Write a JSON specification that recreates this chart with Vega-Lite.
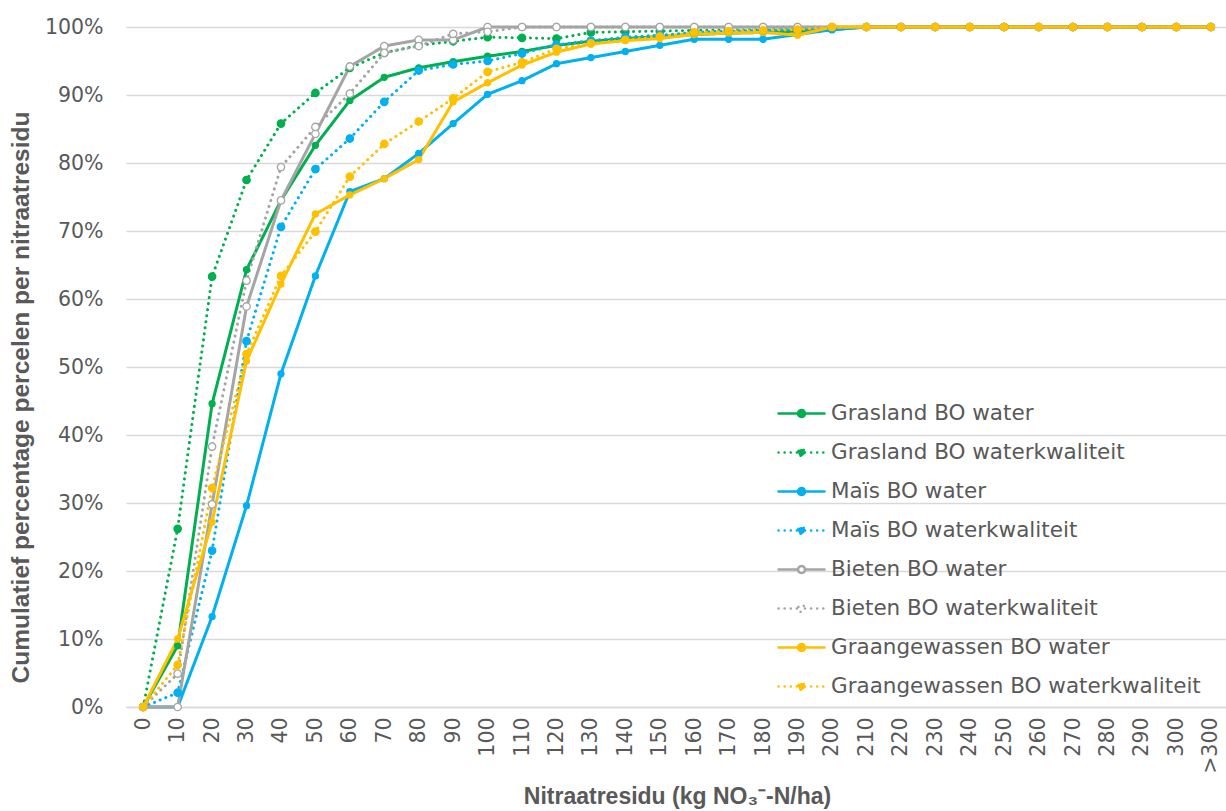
{
  "$schema": "https://vega.github.io/schema/vega-lite/v6.json",
  "width": 1102,
  "height": 680,
  "autosize": {"type": "none"},
  "padding": {"left": 126, "top": 27, "right": 0, "bottom": 104},
  "background": "white",
  "data": {
    "values": [
      {"x": "0", "Grasland BO water": 0, "Grasland BO waterkwaliteit": 0, "Maïs BO water": 0, "Maïs BO waterkwaliteit": 0, "Bieten BO water": 0, "Bieten BO waterkwaliteit": 0, "Graangewassen BO water": 0, "Graangewassen BO waterkwaliteit": 0},
      {"x": "10", "Grasland BO water": 9.0, "Grasland BO waterkwaliteit": 26.2, "Maïs BO water": 0, "Maïs BO waterkwaliteit": 2.1, "Bieten BO water": 0, "Bieten BO waterkwaliteit": 4.9, "Graangewassen BO water": 10.0, "Graangewassen BO waterkwaliteit": 6.2},
      {"x": "20", "Grasland BO water": 44.6, "Grasland BO waterkwaliteit": 63.3, "Maïs BO water": 13.3, "Maïs BO waterkwaliteit": 23.0, "Bieten BO water": 29.8, "Bieten BO waterkwaliteit": 38.3, "Graangewassen BO water": 27.2, "Graangewassen BO waterkwaliteit": 32.2},
      {"x": "30", "Grasland BO water": 64.3, "Grasland BO waterkwaliteit": 77.5, "Maïs BO water": 29.6, "Maïs BO waterkwaliteit": 53.8, "Bieten BO water": 58.9, "Bieten BO waterkwaliteit": 62.7, "Graangewassen BO water": 50.9, "Graangewassen BO waterkwaliteit": 51.9},
      {"x": "40", "Grasland BO water": 74.5, "Grasland BO waterkwaliteit": 85.8, "Maïs BO water": 49.0, "Maïs BO waterkwaliteit": 70.6, "Bieten BO water": 74.5, "Bieten BO waterkwaliteit": 79.4, "Graangewassen BO water": 62.2, "Graangewassen BO waterkwaliteit": 63.4},
      {"x": "50", "Grasland BO water": 82.6, "Grasland BO waterkwaliteit": 90.3, "Maïs BO water": 63.4, "Maïs BO waterkwaliteit": 79.1, "Bieten BO water": 84.3, "Bieten BO waterkwaliteit": 85.3, "Graangewassen BO water": 72.5, "Graangewassen BO waterkwaliteit": 69.9},
      {"x": "60", "Grasland BO water": 89.2, "Grasland BO waterkwaliteit": 94.0, "Maïs BO water": 75.8, "Maïs BO waterkwaliteit": 83.6, "Bieten BO water": 94.2, "Bieten BO waterkwaliteit": 90.2, "Graangewassen BO water": 75.3, "Graangewassen BO waterkwaliteit": 78.0},
      {"x": "70", "Grasland BO water": 92.6, "Grasland BO waterkwaliteit": 96.2, "Maïs BO water": 77.7, "Maïs BO waterkwaliteit": 89.0, "Bieten BO water": 97.2, "Bieten BO waterkwaliteit": 96.2, "Graangewassen BO water": 77.7, "Graangewassen BO waterkwaliteit": 82.8},
      {"x": "80", "Grasland BO water": 94.0, "Grasland BO waterkwaliteit": 97.3, "Maïs BO water": 81.4, "Maïs BO waterkwaliteit": 93.6, "Bieten BO water": 98.1, "Bieten BO waterkwaliteit": 97.2, "Graangewassen BO water": 80.5, "Graangewassen BO waterkwaliteit": 86.1},
      {"x": "90", "Grasland BO water": 94.9, "Grasland BO waterkwaliteit": 97.9, "Maïs BO water": 85.8, "Maïs BO waterkwaliteit": 94.5, "Bieten BO water": 98.1, "Bieten BO waterkwaliteit": 99.0, "Graangewassen BO water": 89.0, "Graangewassen BO waterkwaliteit": 89.5},
      {"x": "100", "Grasland BO water": 95.7, "Grasland BO waterkwaliteit": 98.5, "Maïs BO water": 90.1, "Maïs BO waterkwaliteit": 95.0, "Bieten BO water": 100, "Bieten BO waterkwaliteit": 99.3, "Graangewassen BO water": 91.8, "Graangewassen BO waterkwaliteit": 93.4},
      {"x": "110", "Grasland BO water": 96.4, "Grasland BO waterkwaliteit": 98.4, "Maïs BO water": 92.1, "Maïs BO waterkwaliteit": 96.1, "Bieten BO water": 100, "Bieten BO waterkwaliteit": 100, "Graangewassen BO water": 94.4, "Graangewassen BO waterkwaliteit": 94.8},
      {"x": "120", "Grasland BO water": 97.3, "Grasland BO waterkwaliteit": 98.3, "Maïs BO water": 94.6, "Maïs BO waterkwaliteit": 97.4, "Bieten BO water": 100, "Bieten BO waterkwaliteit": 100, "Graangewassen BO water": 96.3, "Graangewassen BO waterkwaliteit": 96.8},
      {"x": "130", "Grasland BO water": 97.9, "Grasland BO waterkwaliteit": 99.2, "Maïs BO water": 95.5, "Maïs BO waterkwaliteit": 98.0, "Bieten BO water": 100, "Bieten BO waterkwaliteit": 100, "Graangewassen BO water": 97.5, "Graangewassen BO waterkwaliteit": 97.6},
      {"x": "140", "Grasland BO water": 98.3, "Grasland BO waterkwaliteit": 99.3, "Maïs BO water": 96.4, "Maïs BO waterkwaliteit": 98.5, "Bieten BO water": 100, "Bieten BO waterkwaliteit": 100, "Graangewassen BO water": 98.0, "Graangewassen BO waterkwaliteit": 98.1},
      {"x": "150", "Grasland BO water": 98.6, "Grasland BO waterkwaliteit": 99.4, "Maïs BO water": 97.3, "Maïs BO waterkwaliteit": 98.8, "Bieten BO water": 100, "Bieten BO waterkwaliteit": 100, "Graangewassen BO water": 98.3, "Graangewassen BO waterkwaliteit": 98.6},
      {"x": "160", "Grasland BO water": 98.9, "Grasland BO waterkwaliteit": 99.5, "Maïs BO water": 98.2, "Maïs BO waterkwaliteit": 99.2, "Bieten BO water": 100, "Bieten BO waterkwaliteit": 100, "Graangewassen BO water": 98.9, "Graangewassen BO waterkwaliteit": 99.2},
      {"x": "170", "Grasland BO water": 99.1, "Grasland BO waterkwaliteit": 99.6, "Maïs BO water": 98.2, "Maïs BO waterkwaliteit": 99.4, "Bieten BO water": 100, "Bieten BO waterkwaliteit": 100, "Graangewassen BO water": 99.1, "Graangewassen BO waterkwaliteit": 99.4},
      {"x": "180", "Grasland BO water": 99.2, "Grasland BO waterkwaliteit": 99.6, "Maïs BO water": 98.2, "Maïs BO waterkwaliteit": 99.5, "Bieten BO water": 100, "Bieten BO waterkwaliteit": 100, "Graangewassen BO water": 99.2, "Graangewassen BO waterkwaliteit": 99.5},
      {"x": "190", "Grasland BO water": 99.4, "Grasland BO waterkwaliteit": 99.7, "Maïs BO water": 98.9, "Maïs BO waterkwaliteit": 99.6, "Bieten BO water": 100, "Bieten BO waterkwaliteit": 100, "Graangewassen BO water": 98.8, "Graangewassen BO waterkwaliteit": 99.6},
      {"x": "200", "Grasland BO water": 99.6, "Grasland BO waterkwaliteit": 99.8, "Maïs BO water": 99.6, "Maïs BO waterkwaliteit": 99.8, "Bieten BO water": 100, "Bieten BO waterkwaliteit": 100, "Graangewassen BO water": 100, "Graangewassen BO waterkwaliteit": 100},
      {"x": "210", "Grasland BO water": 100, "Grasland BO waterkwaliteit": 100, "Maïs BO water": 100, "Maïs BO waterkwaliteit": 100, "Bieten BO water": 100, "Bieten BO waterkwaliteit": 100, "Graangewassen BO water": 100, "Graangewassen BO waterkwaliteit": 100},
      {"x": "220", "Grasland BO water": 100, "Grasland BO waterkwaliteit": 100, "Maïs BO water": 100, "Maïs BO waterkwaliteit": 100, "Bieten BO water": 100, "Bieten BO waterkwaliteit": 100, "Graangewassen BO water": 100, "Graangewassen BO waterkwaliteit": 100},
      {"x": "230", "Grasland BO water": 100, "Grasland BO waterkwaliteit": 100, "Maïs BO water": 100, "Maïs BO waterkwaliteit": 100, "Bieten BO water": 100, "Bieten BO waterkwaliteit": 100, "Graangewassen BO water": 100, "Graangewassen BO waterkwaliteit": 100},
      {"x": "240", "Grasland BO water": 100, "Grasland BO waterkwaliteit": 100, "Maïs BO water": 100, "Maïs BO waterkwaliteit": 100, "Bieten BO water": 100, "Bieten BO waterkwaliteit": 100, "Graangewassen BO water": 100, "Graangewassen BO waterkwaliteit": 100},
      {"x": "250", "Grasland BO water": 100, "Grasland BO waterkwaliteit": 100, "Maïs BO water": 100, "Maïs BO waterkwaliteit": 100, "Bieten BO water": 100, "Bieten BO waterkwaliteit": 100, "Graangewassen BO water": 100, "Graangewassen BO waterkwaliteit": 100},
      {"x": "260", "Grasland BO water": 100, "Grasland BO waterkwaliteit": 100, "Maïs BO water": 100, "Maïs BO waterkwaliteit": 100, "Bieten BO water": 100, "Bieten BO waterkwaliteit": 100, "Graangewassen BO water": 100, "Graangewassen BO waterkwaliteit": 100},
      {"x": "270", "Grasland BO water": 100, "Grasland BO waterkwaliteit": 100, "Maïs BO water": 100, "Maïs BO waterkwaliteit": 100, "Bieten BO water": 100, "Bieten BO waterkwaliteit": 100, "Graangewassen BO water": 100, "Graangewassen BO waterkwaliteit": 100},
      {"x": "280", "Grasland BO water": 100, "Grasland BO waterkwaliteit": 100, "Maïs BO water": 100, "Maïs BO waterkwaliteit": 100, "Bieten BO water": 100, "Bieten BO waterkwaliteit": 100, "Graangewassen BO water": 100, "Graangewassen BO waterkwaliteit": 100},
      {"x": "290", "Grasland BO water": 100, "Grasland BO waterkwaliteit": 100, "Maïs BO water": 100, "Maïs BO waterkwaliteit": 100, "Bieten BO water": 100, "Bieten BO waterkwaliteit": 100, "Graangewassen BO water": 100, "Graangewassen BO waterkwaliteit": 100},
      {"x": "300", "Grasland BO water": 100, "Grasland BO waterkwaliteit": 100, "Maïs BO water": 100, "Maïs BO waterkwaliteit": 100, "Bieten BO water": 100, "Bieten BO waterkwaliteit": 100, "Graangewassen BO water": 100, "Graangewassen BO waterkwaliteit": 100},
      {"x": ">300", "Grasland BO water": 100, "Grasland BO waterkwaliteit": 100, "Maïs BO water": 100, "Maïs BO waterkwaliteit": 100, "Bieten BO water": 100, "Bieten BO waterkwaliteit": 100, "Graangewassen BO water": 100, "Graangewassen BO waterkwaliteit": 100}
    ]
  },
  "transform": [
    {"fold": ["Grasland BO water", "Grasland BO waterkwaliteit", "Maïs BO water", "Maïs BO waterkwaliteit", "Bieten BO water", "Bieten BO waterkwaliteit", "Graangewassen BO water", "Graangewassen BO waterkwaliteit"], "as": ["series", "v"]}
  ],
  "encoding": {
    "x": {
      "field": "x", "type": "ordinal", "sort": null,
      "scale": {"type": "point", "padding": 0.5},
      "axis": {
        "labelAngle": -90, "labelFont": "DejaVu Sans", "labelFontSize": 20.5, "labelColor": "#595959",
        "labelPadding": 10, "ticks": false, "domain": true, "domainColor": "#d9d9d9", "domainWidth": 1.3,
        "grid": false,
        "title": "Nitraatresidu (kg NO₃⁻-N/ha)", "titleFont": "Liberation Sans", "titleFontWeight": "bold",
        "titleFontSize": 23, "titleColor": "#595959", "titlePadding": 12
      }
    },
    "y": {
      "field": "v", "type": "quantitative",
      "scale": {"domain": [0, 100], "nice": false, "zero": true},
      "axis": {
        "values": [0, 10, 20, 30, 40, 50, 60, 70, 80, 90, 100],
        "labelExpr": "datum.value + '%'",
        "labelFont": "DejaVu Sans", "labelFontSize": 20.5, "labelColor": "#595959", "labelPadding": 23,
        "grid": true, "gridColor": "#d9d9d9", "gridWidth": 1.3, "domain": false, "ticks": false,
        "title": "Cumulatief percentage percelen per nitraatresidu", "titleFont": "Liberation Sans",
        "titleFontWeight": "bold", "titleFontSize": 24.5, "titleColor": "#595959",
        "titleX": -93, "titleY": 370, "titleBaseline": "bottom", "titleAngle": -90, "titleAlign": "center"
      }
    }
  },
  "layer": [
    {
      "mark": {"type": "line", "strokeWidth": 3, "strokeCap": "round", "strokeJoin": "round"},
      "encoding": {
        "color": {
          "field": "series", "type": "nominal",
          "scale": {
            "domain": ["Grasland BO water", "Grasland BO waterkwaliteit", "Maïs BO water", "Maïs BO waterkwaliteit", "Bieten BO water", "Bieten BO waterkwaliteit", "Graangewassen BO water", "Graangewassen BO waterkwaliteit"],
            "range": ["#00B050", "#00B050", "#00B0F0", "#00B0F0", "#A5A5A5", "#A5A5A5", "#FFC000", "#FFC000"]
          },
          "legend": {
            "title": null, "orient": "none", "legendX": 651, "legendY": 362,
            "symbolType": "M-1,0H-0.15M0.15,0H1M0.15,0A0.15,0.15,0,1,1,-0.15,0A0.15,0.15,0,1,1,0.15,0",
            "symbolSize": 2116, "symbolStrokeWidth": 2.5,
            "labelFont": "DejaVu Sans", "labelFontSize": 21.5, "labelColor": "#595959", "labelLimit": 0,
            "labelOffset": 5, "rowPadding": 4,
            "encode": {
              "symbols": {
                "update": {
                  "fill": {"signal": "indexof(datum.value, 'Bieten') === 0 ? 'white' : scale('color', datum.value)"},
                  "strokeCap": {"value": "round"}
                }
              }
            }
          }
        },
        "strokeDash": {
          "field": "series", "type": "nominal",
          "scale": {
            "domain": ["Grasland BO water", "Grasland BO waterkwaliteit", "Maïs BO water", "Maïs BO waterkwaliteit", "Bieten BO water", "Bieten BO waterkwaliteit", "Graangewassen BO water", "Graangewassen BO waterkwaliteit"],
            "range": [[1, 0], [0.1, 6], [1, 0], [0.1, 6], [1, 0], [0.1, 6], [1, 0], [0.1, 6]]
          }
        }
      }
    },
    {
      "transform": [{"filter": {"field": "series", "oneOf": ["Grasland BO water", "Maïs BO water", "Graangewassen BO water"]}}],
      "mark": {"type": "point", "shape": "circle", "filled": true, "size": 36, "strokeWidth": 1.3, "opacity": 1},
      "encoding": {
        "fill": {
          "field": "series", "type": "nominal", "legend": null,
          "scale": {
            "domain": ["Grasland BO water", "Grasland BO waterkwaliteit", "Maïs BO water", "Maïs BO waterkwaliteit", "Bieten BO water", "Bieten BO waterkwaliteit", "Graangewassen BO water", "Graangewassen BO waterkwaliteit"],
            "range": ["#00B050", "#00B050", "#00B0F0", "#00B0F0", "#FFFFFF", "#FFFFFF", "#FFC000", "#FFC000"]
          }
        },
        "stroke": {
          "field": "series", "type": "nominal", "legend": null,
          "scale": {
            "domain": ["Grasland BO water", "Grasland BO waterkwaliteit", "Maïs BO water", "Maïs BO waterkwaliteit", "Bieten BO water", "Bieten BO waterkwaliteit", "Graangewassen BO water", "Graangewassen BO waterkwaliteit"],
            "range": ["#00B050", "#00B050", "#00B0F0", "#00B0F0", "#A5A5A5", "#A5A5A5", "#FFC000", "#FFC000"]
          }
        }
      }
    },
    {
      "transform": [{"filter": {"field": "series", "oneOf": ["Grasland BO waterkwaliteit", "Maïs BO waterkwaliteit", "Bieten BO water", "Bieten BO waterkwaliteit", "Graangewassen BO waterkwaliteit"]}}],
      "mark": {"type": "point", "shape": "circle", "filled": true, "size": 55, "strokeWidth": 1.3, "opacity": 1},
      "encoding": {
        "fill": {
          "field": "series", "type": "nominal", "legend": null,
          "scale": {
            "domain": ["Grasland BO water", "Grasland BO waterkwaliteit", "Maïs BO water", "Maïs BO waterkwaliteit", "Bieten BO water", "Bieten BO waterkwaliteit", "Graangewassen BO water", "Graangewassen BO waterkwaliteit"],
            "range": ["#00B050", "#00B050", "#00B0F0", "#00B0F0", "#FFFFFF", "#FFFFFF", "#FFC000", "#FFC000"]
          }
        },
        "stroke": {
          "field": "series", "type": "nominal", "legend": null,
          "scale": {
            "domain": ["Grasland BO water", "Grasland BO waterkwaliteit", "Maïs BO water", "Maïs BO waterkwaliteit", "Bieten BO water", "Bieten BO waterkwaliteit", "Graangewassen BO water", "Graangewassen BO waterkwaliteit"],
            "range": ["#00B050", "#00B050", "#00B0F0", "#00B0F0", "#A5A5A5", "#A5A5A5", "#FFC000", "#FFC000"]
          }
        }
      }
    }
  ],
  "config": {
    "view": {"stroke": null}
  }
}
